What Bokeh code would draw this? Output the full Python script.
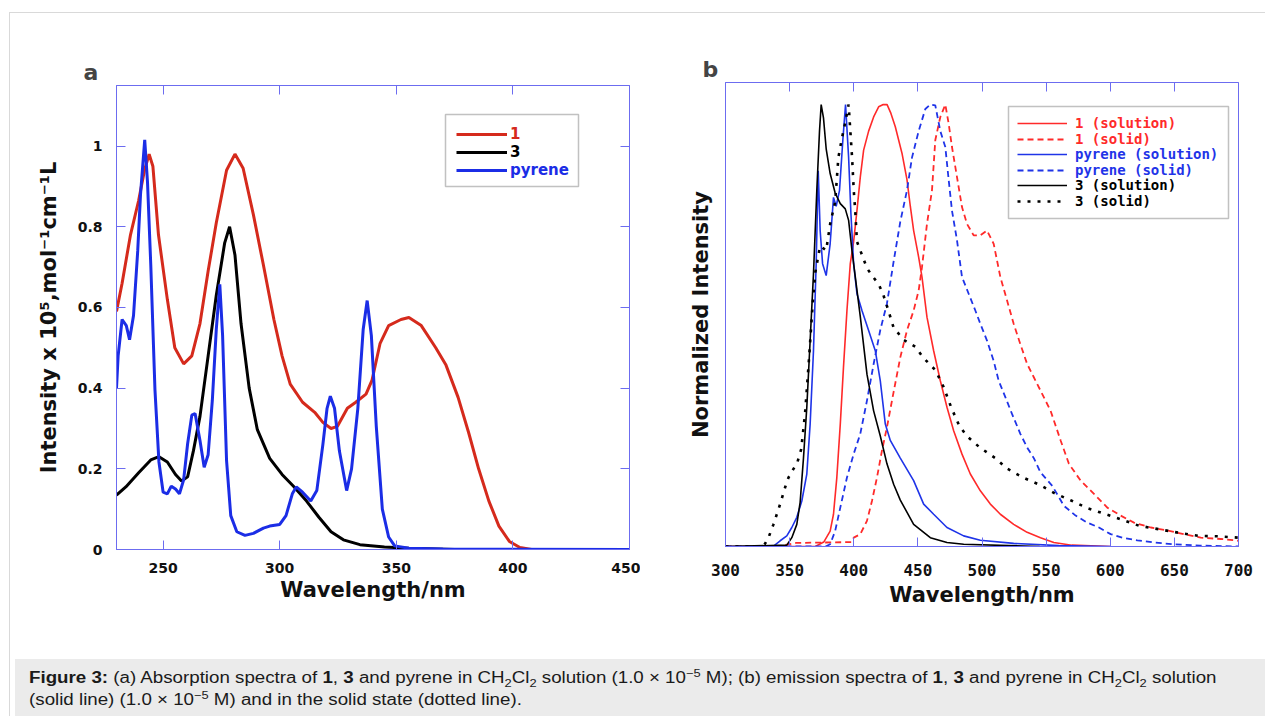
from bokeh.plotting import figure
from bokeh.models import (LinearAxis, FixedTicker, Legend, LegendItem, BoxAnnotation,
                          NumeralTickFormatter, Div, Range1d)
from bokeh.layouts import row, column
from bokeh.embed import file_html
from bokeh.resources import INLINE

# ---------------- Panel a : absorption spectra ----------------
A_WL_1 = [230, 232.4, 236, 239.5, 242, 244, 245.6, 248, 251.8, 255, 258.8, 262.3, 265.8,
          269.3, 272.8, 277.2, 280.8, 284.3, 288.7, 293, 297.5, 301, 304.5, 309.8, 315,
          318.5, 322, 324.7, 329, 332.6, 337, 339.6, 343, 346.7, 352, 355.4, 360.7, 366.9,
          371.3, 376.5, 381, 385.3, 389.7, 394, 398.5, 403, 408, 450]
A_ABS_1 = [0.59, 0.66, 0.78, 0.865, 0.94, 0.98, 0.95, 0.78, 0.62, 0.50, 0.46, 0.48, 0.56,
           0.69, 0.81, 0.94, 0.98, 0.945, 0.83, 0.705, 0.57, 0.48, 0.41, 0.365, 0.34,
           0.315, 0.30, 0.305, 0.35, 0.365, 0.385, 0.42, 0.51, 0.555, 0.57, 0.575, 0.555, 0.50,
           0.457, 0.377, 0.29, 0.20, 0.12, 0.058, 0.02, 0.005, 0.0, 0.0]

A_WL_3 = [230, 234, 239.5, 244.7, 248.2, 251.8, 255.3, 257.9, 260.5, 263, 265.8, 269.3,
          272.8, 276.4, 278.5, 280.8, 283.4, 286.9, 290.4, 295.7, 301, 306.2, 311.5, 316.8,
          322, 327.3, 334.4, 344.9, 355.4, 375]
A_ABS_3 = [0.135, 0.155, 0.19, 0.222, 0.23, 0.217, 0.186, 0.17, 0.18, 0.245, 0.33, 0.48,
           0.63, 0.76, 0.80, 0.73, 0.56, 0.40, 0.297, 0.226, 0.186, 0.155, 0.12, 0.08,
           0.044, 0.024, 0.012, 0.006, 0.003, 0.0]

A_WL_PYR = [230, 230.7, 232.4, 234.2, 235.6, 237.3, 239.1, 240.3, 242.1, 243.3, 244.7, 246.5,
            248.2, 250, 251.8, 253.5, 255.3, 257, 258.8, 260.5, 262.3, 263.7, 265.8, 267.6,
            269.3, 271.1, 272.8, 274.3, 275.5, 277.2, 279, 281.6, 285.1, 288.7, 293, 295.7,
            300, 302.7, 305.4, 307.1, 309.8, 313.3, 315.9, 318.5, 320.3, 321.7, 323.5, 325.6,
            328.7, 330.8, 333.5, 335.8, 337.5, 339.3, 341.4, 344, 346.7, 349.3, 355.4, 370, 450]
A_ABS_PYR = [0.40, 0.48, 0.57, 0.555, 0.52, 0.58, 0.74, 0.88, 1.015, 0.91, 0.705, 0.395,
             0.217, 0.142, 0.138, 0.157, 0.15, 0.138, 0.173, 0.262, 0.333, 0.337, 0.27, 0.204,
             0.235, 0.37, 0.546, 0.657, 0.53, 0.22, 0.084, 0.044, 0.035, 0.04, 0.053, 0.058,
             0.062, 0.084, 0.138, 0.155, 0.142, 0.12, 0.146, 0.26, 0.35, 0.38, 0.35, 0.244,
             0.146, 0.20, 0.35, 0.546, 0.617, 0.53, 0.306, 0.10, 0.031, 0.009, 0.003, 0.001, 0.0]

A_XTICKS = [250, 300, 350, 400, 450]
A_YTICKS = [0, 0.2, 0.4, 0.6, 0.8, 1.0]
A_LABELS = ["1", "3", "pyrene"]

# ---------------- Panel b : emission spectra ----------------
B_WL_1_SOLN = [300, 370, 376.6, 381.6, 384.2, 386.8, 389.5, 392, 394.7, 397.3, 399.9, 402.5,
               405.1, 407.7, 411.6, 415.5, 419.4, 423, 426, 429, 432.4, 437.6, 441.5, 444.1,
               446.7, 450.6, 453.2, 457.1, 462.3, 467.5, 472.7, 477.9, 484.4, 490.9, 498.7,
               506.5, 514.3, 524.7, 535.2, 545.6, 556, 570, 600]
B_I_1_SOLN = [0, 0, 0.01, 0.035, 0.073, 0.156, 0.277, 0.406, 0.534, 0.64, 0.69, 0.76,
              0.836, 0.897, 0.94, 0.972, 0.995, 1.0, 1.0, 0.98, 0.95, 0.89, 0.83, 0.77,
              0.715, 0.655, 0.61, 0.519, 0.443, 0.375, 0.315, 0.262, 0.209, 0.164, 0.126,
              0.096, 0.073, 0.05, 0.032, 0.02, 0.009, 0.003, 0.0]

B_WL_1_SOLID = [300, 340, 355, 398, 400, 405.1, 410.3, 414.2, 418.1, 422, 425.9, 431.1, 436.3,
                441.5, 446.7, 450.6, 453.2, 457.1, 461, 463.6, 467.5, 471.4, 474, 476.6, 480.5,
                484.4, 488.3, 493.5, 498.7, 503.9, 509.1, 514.3, 519.5, 524.7, 529.9, 535.2,
                540.4, 545.6, 553.5, 561.3, 567.8, 576.9, 587.3, 597.7, 608.1, 618.5, 631.6,
                644.6, 657.6, 670.6, 686.3, 700]
B_I_1_SOLID = [0, 0, 0.008, 0.01, 0.02, 0.028, 0.058, 0.103, 0.156, 0.217, 0.27, 0.35, 0.428,
               0.489, 0.534, 0.579, 0.632, 0.73, 0.806, 0.92, 0.972, 1.0, 0.957, 0.904, 0.836,
               0.768, 0.73, 0.704, 0.704, 0.715, 0.685, 0.61, 0.557, 0.504, 0.458, 0.413,
               0.383, 0.353, 0.307, 0.24, 0.187, 0.149, 0.119, 0.088, 0.07, 0.054, 0.043,
               0.036, 0.028, 0.02, 0.017, 0.013]

B_WL_PYR_SOLN = [300, 337, 342.6, 347.8, 351.7, 355.6, 359.5, 363.4, 366, 368.6, 370.7, 372.3,
                 373.8, 375.7, 378.5, 381.6, 384.2, 386.3, 388.9, 391.5, 393.6, 396, 397.8,
                 399.9, 402.5, 406.4, 411.6, 416.8, 420.7, 424.6, 428.5, 436.3, 446.7, 454.5,
                 462.3, 472.7, 485.7, 498.7, 524.7, 560, 600]
B_I_PYR_SOLN = [0, 0, 0.013, 0.024, 0.043, 0.066, 0.103, 0.164, 0.277, 0.443, 0.64, 0.85,
                0.715, 0.64, 0.613, 0.685, 0.79, 0.77, 0.806, 0.92, 1.0, 0.88, 0.753,
                0.64, 0.572, 0.534, 0.489, 0.443, 0.375, 0.277, 0.24, 0.2, 0.149, 0.096,
                0.073, 0.043, 0.024, 0.014, 0.007, 0.002, 0.0]

B_WL_PYR_SOLID = [300, 378, 381.6, 385.5, 389.5, 394.7, 399.9, 405.1, 410.3, 415.5, 420.7,
                  425.9, 431.1, 436.3, 441.5, 445.4, 450.6, 455.8, 459.7, 463.6, 467.5, 471.4,
                  474, 476.6, 480.5, 484.4, 489.6, 494.8, 498.7, 503.9, 509.1, 513, 518.2,
                  523.4, 529.9, 535.2, 540.4, 545.6, 554.8, 563.9, 573, 582.1, 591.2, 600.3,
                  609.4, 621.1, 634.1, 649.7, 670, 700]
B_I_PYR_SOLID = [0, 0, 0.005, 0.035, 0.088, 0.156, 0.209, 0.255, 0.33, 0.413, 0.49,
                 0.55, 0.645, 0.735, 0.806, 0.88, 0.94, 0.99, 1.0, 0.998, 0.94, 0.904,
                 0.83, 0.76, 0.693, 0.61, 0.572, 0.534, 0.504, 0.466, 0.42, 0.375, 0.338,
                 0.3, 0.255, 0.224, 0.2, 0.168, 0.137, 0.092, 0.07, 0.054, 0.043, 0.028,
                 0.02, 0.014, 0.009, 0.005, 0.002, 0.0]

B_WL_3_SOLN = [300, 347.8, 351.7, 355.6, 358.2, 360.8, 363.4, 366, 368.6, 371.2, 373.3, 374.6,
               376.4, 378.5, 381.6, 385.5, 389.5, 393.4, 396, 398.6, 401.2, 405.1, 410.3,
               415.5, 420.7, 425.9, 431.1, 436.3, 446.7, 459.7, 472.7, 485.7, 545]
B_I_3_SOLN = [0, 0.003, 0.02, 0.05, 0.10, 0.20, 0.315, 0.466, 0.617, 0.806, 0.94, 1.0,
              0.97, 0.90, 0.844, 0.80, 0.776, 0.764, 0.738, 0.67, 0.61, 0.52, 0.39,
              0.307, 0.25, 0.187, 0.141, 0.105, 0.05, 0.02, 0.009, 0.005, 0.0]

B_WL_3_SOLID = [300, 329.6, 333.5, 337.4, 340, 342.6, 346.5, 349.1, 352.9, 356, 359, 362, 365,
                368, 370, 373.8, 378.5, 381.6, 385.5, 388, 390.5, 393.4, 396, 398.7, 400,
                401.3, 402.5, 406.4, 410.3, 414.2, 419.4, 423, 427, 431, 438.7, 448, 454.3,
                463.7, 469.9, 476.1, 482.3, 488.5, 497.9, 510.3, 519.7, 532.1, 544.6, 557,
                569.5, 582, 594.4, 606.9, 622.4, 638, 653.6, 669.1, 684.7, 700]
B_I_3_SOLID = [0, 0, 0.02, 0.05, 0.073, 0.096, 0.134, 0.156, 0.175, 0.19, 0.22, 0.3, 0.42,
               0.55, 0.62, 0.68, 0.67, 0.73, 0.78, 0.88, 0.92, 0.96, 1.0, 0.88, 0.806,
               0.753, 0.69, 0.66, 0.63, 0.613, 0.594, 0.57, 0.534, 0.496, 0.468, 0.452, 0.427,
               0.399, 0.362, 0.314, 0.273, 0.249, 0.225, 0.2, 0.176, 0.156, 0.14, 0.12,
               0.104, 0.087, 0.075, 0.063, 0.047, 0.039, 0.031, 0.024, 0.023, 0.02]

B_XTICKS = [300, 350, 400, 450, 500, 550, 600, 650, 700]
B_LABELS = ["1 (solution)", "1 (solid)", "pyrene (solution)", "pyrene (solid)",
            "3 (solution)", "3 (solid)"]

CAPTION = ('<b>Figure 3:</b> (a) Absorption spectra of <b>1</b>, <b>3</b> and pyrene in '
           'CH<sub>2</sub>Cl<sub>2</sub> solution (1.0 × 10<sup>−5</sup> M); (b) emission spectra of '
           '<b>1</b>, <b>3</b> and pyrene in CH<sub>2</sub>Cl<sub>2</sub> solution<br>'
           '(solid line) (1.0 × 10<sup>−5</sup> M) and in the solid state (dotted line).')

# ---------------- styling ----------------
FRAME = "#6c6cf0"
RED_A, BLACK, BLUE_A = "#d52a1c", "#000000", "#1b2de6"
RED_B, BLUE_B = "#ff2a2a", "#1f34e8"
BOLD = "DejaVu Sans"


def tick_axis(ax, ticks):
    ax.ticker = FixedTicker(ticks=ticks)
    ax.axis_line_color = FRAME
    ax.major_tick_line_color = FRAME
    ax.major_tick_in = 9
    ax.major_tick_out = 0
    ax.minor_tick_line_color = None


def blank_labels(ax):
    ax.major_label_text_color = None
    ax.major_label_text_font_size = "1px"
    ax.major_label_standoff = 0


def base_fig(width, ml, mr, mt, mb, xr, yr, title, toff):
    p = figure(width=width, height=641, x_range=Range1d(*xr), y_range=Range1d(*yr),
               output_backend="svg", toolbar_location=None, title=title,
               min_border_left=ml, min_border_right=mr, min_border_top=mt, min_border_bottom=mb)
    p.xgrid.visible = False
    p.ygrid.visible = False
    p.outline_line_color = FRAME
    p.outline_line_width = 1
    p.border_fill_color = None
    p.title.align = "left"
    p.title.offset = toff
    p.title.text_font = BOLD
    p.title.text_font_style = "bold"
    p.title.text_font_size = "22px"
    p.title.standoff = 2
    return p


def add_legend_row(p, r, label, color, x, yc, fl, fb, gw, standoff, font, size):
    h = 18
    leg = Legend(items=[LegendItem(label=label, renderers=[r])],
                 location=(x - fl, fb - yc - h / 2), padding=0, margin=0, spacing=0,
                 glyph_width=gw, glyph_height=h, label_height=h, label_standoff=standoff,
                 border_line_color=None, background_fill_alpha=0,
                 label_text_color=color, label_text_font=font, label_text_font_style="bold",
                 label_text_font_size=size)
    p.add_layout(leg)


# ---------------- panel a ----------------
FA_L, FA_B = 116, 549
pa = base_fig(630, 106, 11, 72, 105, (230, 450), (0, 1.15), "a", -33)
xa = pa.below[0]
tick_axis(xa, A_XTICKS)
xa.axis_label = "Wavelength/nm"
xa.major_label_standoff = 13
ya = pa.left[0]
tick_axis(ya, A_YTICKS)
ya.formatter = NumeralTickFormatter(format="0.[0]")
ya.axis_label = "Intensity x 10⁵,mol⁻¹cm⁻¹L"
ya.major_label_standoff = 14
for ax in (xa, ya):
    ax.major_label_text_font = BOLD
    ax.major_label_text_font_style = "bold"
    ax.major_label_text_font_size = "14px"
    ax.major_label_text_color = "#111111"
    ax.axis_label_text_font = BOLD
    ax.axis_label_text_font_style = "bold"
    ax.axis_label_text_font_size = "21px"
    ax.axis_label_text_color = "#111111"
xa.axis_label_standoff = 2
ya.axis_label_standoff = 14
ta = LinearAxis()
tick_axis(ta, A_XTICKS[:-1])
blank_labels(ta)
pa.add_layout(ta, "above")
ra = LinearAxis()
tick_axis(ra, A_YTICKS)
blank_labels(ra)
pa.add_layout(ra, "right")

ra1 = pa.line(A_WL_1, A_ABS_1, line_color=RED_A, line_width=3)
ra3 = pa.line(A_WL_3, A_ABS_3, line_color=BLACK, line_width=3)
rap = pa.line(A_WL_PYR, A_ABS_PYR, line_color=BLUE_A, line_width=3)

pa.add_layout(BoxAnnotation(left=445 - FA_L, right=578 - FA_L, top=FA_B - 114, bottom=FA_B - 186,
                            left_units="screen", right_units="screen", top_units="screen",
                            bottom_units="screen", fill_alpha=0, line_color="#333333",
                            line_width=1.5))
for r, lab, col, yc in zip([ra1, ra3, rap], A_LABELS, [RED_A, BLACK, BLUE_A], [133.5, 151.5, 169.5]):
    add_legend_row(pa, r, lab, col, 456, yc, FA_L, FA_B, 51, 3, BOLD, "15px")

# ---------------- panel b ----------------
# frames of a row are aligned by Bokeh; panel b is lifted 3px with CSS (its frame: 82..546)
FB_L, FB_B = 725, 549
pb = base_fig(617, 85, 19, 72, 105, (300, 700), (0, 1.05), "b", -23)
pb.styles = {"position": "relative", "top": "-3px"}
xb = pb.below[0]
tick_axis(xb, B_XTICKS)
xb.axis_label = "Wavelength/nm"
xb.major_label_text_font = "DejaVu Sans Mono"
xb.major_label_text_font_style = "bold"
xb.major_label_text_font_size = "16px"
xb.major_label_text_color = "#111111"
xb.major_label_standoff = 17
xb.axis_label_standoff = 4
yb = pb.left[0]
tick_axis(yb, [])
yb.major_label_standoff = 0
yb.axis_label = "Normalized Intensity"
yb.axis_label_standoff = 13
for ax in (xb, yb):
    ax.axis_label_text_font = BOLD
    ax.axis_label_text_font_style = "bold"
    ax.axis_label_text_font_size = "21px"
    ax.axis_label_text_color = "#111111"
tb = LinearAxis()
tick_axis(tb, B_XTICKS[1:-1])
blank_labels(tb)
pb.add_layout(tb, "above")

rb = [
    pb.line(B_WL_1_SOLN, B_I_1_SOLN, line_color=RED_B, line_width=1.6),
    pb.line(B_WL_1_SOLID, B_I_1_SOLID, line_color=RED_B, line_width=1.8, line_dash="6 4"),
    pb.line(B_WL_PYR_SOLN, B_I_PYR_SOLN, line_color=BLUE_B, line_width=1.6),
    pb.line(B_WL_PYR_SOLID, B_I_PYR_SOLID, line_color=BLUE_B, line_width=1.8, line_dash="6 4"),
    pb.line(B_WL_3_SOLN, B_I_3_SOLN, line_color=BLACK, line_width=1.6),
    pb.line(B_WL_3_SOLID, B_I_3_SOLID, line_color=BLACK, line_width=2.6, line_dash="3 7"),
]
# legend rows / box given in page pixels of the lifted panel (+3 for the CSS lift)
pb.add_layout(BoxAnnotation(left=1008 - FB_L, right=1228 - FB_L, top=FB_B - 109, bottom=FB_B - 221,
                            left_units="screen", right_units="screen", top_units="screen",
                            bottom_units="screen", fill_alpha=0, line_color="#333333",
                            line_width=1.5))
B_COLS = [RED_B, RED_B, BLUE_B, BLUE_B, BLACK, BLACK]
for r, lab, col, yc in zip(rb, B_LABELS, B_COLS, [126.3, 141.5, 157, 172.8, 188.4, 203.5]):
    add_legend_row(pb, r, lab, col, 1017, yc, FB_L, FB_B, 50, 8, "DejaVu Sans Mono", "14px")

# ---------------- caption ----------------
cap = Div(text=('<div style="font-family:\'Liberation Sans\',Arial,sans-serif;font-size:16px;'
                'line-height:22px;color:#1a1a1a;padding:8px 0 0 12px;white-space:nowrap;'
                'transform:scaleX(1.17);transform-origin:0 0;">'
                + CAPTION.replace('<sub>', '<sub style="font-size:11px;line-height:0">')
                .replace('<sup>', '<sup style="font-size:11px;line-height:0">') + '</div>'),
          width=1255, height=58, styles={"background-color": "#ebebeb", "overflow": "hidden"})

layout = column(row(pa, pb), cap,
                styles={"border-top": "1px solid #d9d9d9", "border-left": "1px solid #d9d9d9",
                        "margin-top": "12px", "margin-left": "9px"})

open("out.html", "w").write(file_html(layout, INLINE))
